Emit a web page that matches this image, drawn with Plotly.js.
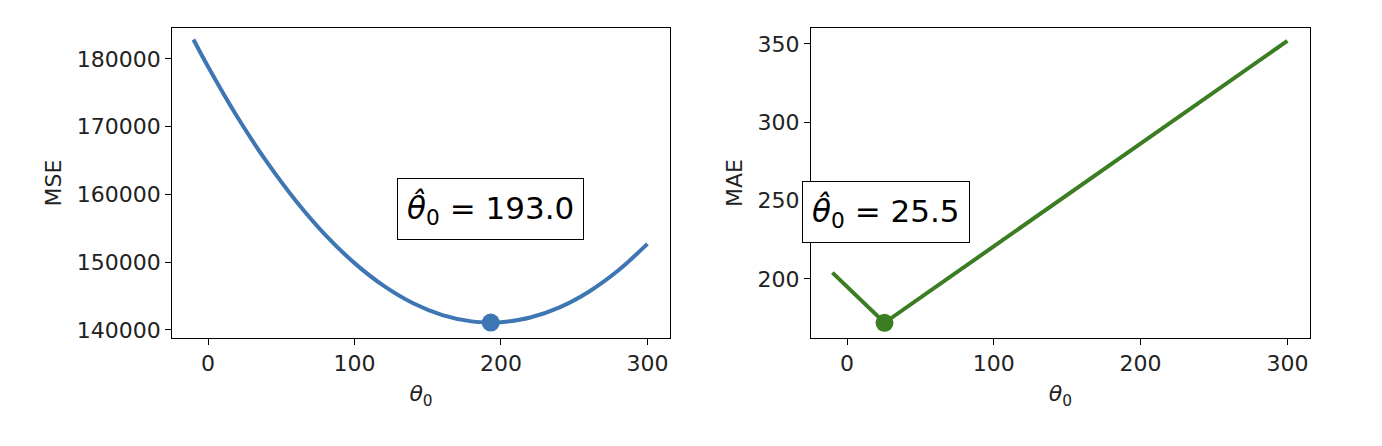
<!DOCTYPE html><html><head><script src="https://cdn.plot.ly/plotly-3.0.1.min.js"></script></head><body style="margin:0"><div id="c" style="width:1382px;height:446px"></div><script>
const mseTheta=[-10,0,20,40,60,80,100,120,140,160,180,193,200,220,240,260,280,300];
const mseVal=[182886,178870,171448,164837,159037,154048,149870,146504,143948,142204,141271,141100,141150,141839,143340,145652,148775,152709];
const maeTheta=[-10,25.5,300];
const maeVal=[204,172,352];
const minMse=[193,141100], minMae=[25.5,172];
const labels=['193.0','25.5'];
const blue='#3d76b3', green='#3b7d23';
const ax={showline:true,mirror:true,linecolor:'black',linewidth:1,ticks:'outside',ticklen:6,tickcolor:'black',showgrid:false,zeroline:false,tickfont:{size:22,color:'#222',family:'DejaVu Sans'}};
const data=[
{x:mseTheta,y:mseVal,mode:'lines',line:{color:blue,width:4,shape:'spline'},xaxis:'x',yaxis:'y'},
{x:[minMse[0]],y:[minMse[1]],mode:'markers',marker:{color:blue,size:18},xaxis:'x',yaxis:'y'},
{x:maeTheta,y:maeVal,mode:'lines',line:{color:green,width:4},xaxis:'x2',yaxis:'y2'},
{x:[minMae[0]],y:[minMae[1]],mode:'markers',marker:{color:green,size:18},xaxis:'x2',yaxis:'y2'}];
const ttl=(t,s)=>({text:t,standoff:s,font:{size:22,family:'DejaVu Sans',color:'#222'}});
const layout={showlegend:false,margin:{l:0,r:0,t:0,b:0},paper_bgcolor:'white',plot_bgcolor:'white',
xaxis:Object.assign({},ax,{domain:[0.1245,0.4848],range:[-24.6,315.4],tickvals:[0,100,200,300],title:ttl('<i>θ</i><sub>0</sub>',10),anchor:'y'}),
yaxis:Object.assign({},ax,{domain:[0.2422,0.9372],range:[138819,184575],tickvals:[140000,150000,160000,170000,180000],title:ttl('MSE',8),anchor:'x',tickformat:'d'}),
xaxis2:Object.assign({},ax,{domain:[0.5868,0.9479],range:[-24.6,315.4],tickvals:[0,100,200,300],title:ttl('<i>θ</i><sub>0</sub>',10),anchor:'y2'}),
yaxis2:Object.assign({},ax,{domain:[0.2422,0.9372],range:[162.3,360.2],tickvals:[200,250,300,350],title:ttl('MAE',8),anchor:'x2'}),
annotations:[
{xref:'paper',yref:'paper',x:490/1382,y:1-209/446,text:'<i>θ̂</i><sub>0</sub> = '+labels[0],showarrow:false,font:{size:31,family:'DejaVu Sans',color:'black'},bgcolor:'white',bordercolor:'black',borderwidth:1,borderpad:9},
{xref:'paper',yref:'paper',x:886/1382,y:1-212/446,text:'<i>θ̂</i><sub>0</sub> = '+labels[1],showarrow:false,font:{size:31,family:'DejaVu Sans',color:'black'},bgcolor:'white',bordercolor:'black',borderwidth:1,borderpad:9}]};
Plotly.newPlot('c',data,layout,{displayModeBar:false});
</script></body></html>
